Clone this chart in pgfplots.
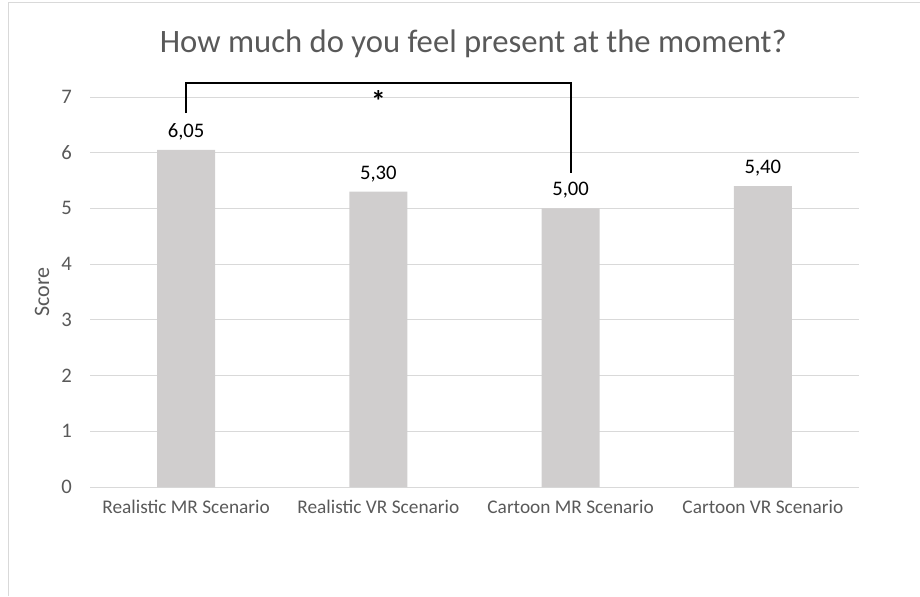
\documentclass[border=0pt]{standalone}
\usepackage{pgfplots}
\pgfplotsset{compat=1.18}
\usepackage{fontspec}
\setmainfont{Carlito}
\definecolor{txtgray}{HTML}{595959}
\definecolor{gridgray}{HTML}{D9D9D9}
\definecolor{bargray}{HTML}{D0CECE}
\begin{document}
\begin{tikzpicture}
\path[use as bounding box] (0,0) rectangle (690pt,447pt);
\draw[gridgray,line width=0.75pt] (6pt,0) -- (6pt,444.75pt) -- (690pt,444.75pt);
\node[txtgray,font=\fontsize{24.5}{28}\selectfont] at (355pt,414pt) {How much do you feel present at the moment?};
\begin{axis}[
  at={(67.5pt,81.75pt)}, anchor=south west,
  scale only axis, width=576.75pt, height=292.5pt,
  xmin=-0.5, xmax=3.5, ymin=0, ymax=7,
  axis line style={draw=none},
  tick style={draw=none},
  ytick={0,1,...,7},
  ymajorgrids, grid style={gridgray,line width=0.75pt},
  xtick={0,1,2,3},
  xticklabels={Realistic MR Scenario, Realistic VR Scenario, Cartoon MR Scenario, Cartoon VR Scenario},
  ticklabel style={txtgray,font=\fontsize{14.5}{17}\selectfont},
  yticklabel style={font=\fontsize{15.5}{18}\selectfont, xshift=-10pt},
  /pgf/number format/assume math mode=true,
  xticklabel style={yshift=-6pt},
  ylabel={Score},
  ylabel style={txtgray,font=\fontsize{16.5}{19}\selectfont, at={(axis description cs:-0.0624,0.5)}, anchor=center},
  clip=false,
]
\addplot[ybar, bar width=43.5pt, fill=bargray, draw=none,
  nodes near coords,
  nodes near coords style={black,font=\fontsize{15.5}{18}\selectfont, yshift=4pt,
    /pgf/number format/.cd, fixed, fixed zerofill, precision=2, use comma, assume math mode=true},
] coordinates {(0,6.05) (1,5.30) (2,5.00) (3,5.40)};
\draw[black,line width=1.5pt] (axis cs:0,6.71) -- (axis cs:0,7.25) -- (axis cs:2,7.25) -- (axis cs:2,5.64);
\node[black,font=\fontsize{22}{24}\selectfont\bfseries] at (axis cs:1,6.92) {*};
\end{axis}
\end{tikzpicture}
\end{document}
